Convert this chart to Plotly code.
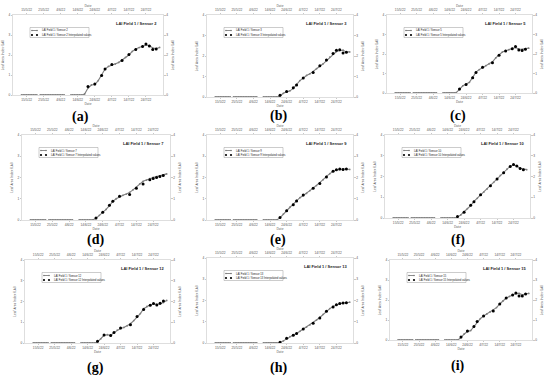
import plotly.graph_objects as go
import pandas as pd

W, H = 550, 376

sensors = [2, 3, 5, 7, 9, 10, 12, 13, 15]
panel_labels = ["(a)", "(b)", "(c)", "(d)", "(e)", "(f)", "(g)", "(h)", "(i)"]

tick_dates = ["2022-05-15", "2022-05-25", "2022-06-04", "2022-06-14",
              "2022-06-24", "2022-07-04", "2022-07-14", "2022-07-24"]
tick_text = ["15/5/22", "25/5/22", "4/6/22", "14/6/22",
             "24/6/22", "4/7/22", "14/7/22", "24/7/22"]
y_ticks = [0, 1, 2, 3, 4]

# dates of measurements before emergence (LAI = 0), with two short data gaps
zero_seg1 = pd.date_range("2022-05-12", "2022-05-21").tolist()
zero_seg2 = pd.date_range("2022-05-23", "2022-06-06").tolist()
zero_seg3 = pd.date_range("2022-06-10", "2022-06-17").tolist()
gap_dates = [pd.Timestamp("2022-05-22"), pd.Timestamp("2022-06-08")]

# dates of measurements after emergence (every 2 days)
rise_dates = pd.date_range("2022-06-18", "2022-08-01", freq="2D").tolist()

# measured LAI for each sensor at rise_dates
lai = {
    2:  [0.05, 0.35, 0.5, 0.52, 0.72, 1.0, 1.3, 1.43, 1.5, 1.55, 1.63, 1.75, 1.88, 2.0, 2.18, 2.3, 2.37, 2.45, 2.5, 2.47, 2.35, 2.32, 2.38],
    3:  [0.0, 0.05, 0.18, 0.25, 0.3, 0.42, 0.6, 0.8, 0.92, 1.05, 1.13, 1.24, 1.38, 1.5, 1.62, 1.78, 1.95, 2.1, 2.22, 2.27, 2.28, 2.2, 2.2],
    5:  [0.02, 0.18, 0.37, 0.45, 0.55, 0.8, 1.07, 1.2, 1.3, 1.4, 1.5, 1.6, 1.8, 1.95, 2.1, 2.17, 2.22, 2.29, 2.33, 2.26, 2.24, 2.28, 2.3],
    7:  [0.0, 0.08, 0.22, 0.35, 0.5, 0.68, 0.88, 1.0, 1.1, 1.16, 1.22, 1.3, 1.42, 1.55, 1.7, 1.82, 1.88, 1.95, 2.0, 2.04, 2.08, 2.12, 2.17],
    9:  [0.0, 0.1, 0.28, 0.45, 0.6, 0.75, 0.92, 1.05, 1.15, 1.25, 1.38, 1.5, 1.62, 1.75, 1.9, 2.05, 2.18, 2.3, 2.35, 2.38, 2.4, 2.4, 2.38],
    10: [0.0, 0.05, 0.15, 0.3, 0.45, 0.6, 0.8, 0.95, 1.1, 1.25, 1.4, 1.55, 1.72, 1.9, 2.05, 2.2, 2.35, 2.5, 2.55, 2.5, 2.4, 2.35, 2.33],
    12: [0.0, 0.05, 0.2, 0.37, 0.4, 0.37, 0.5, 0.62, 0.7, 0.75, 0.83, 0.93, 1.08, 1.25, 1.42, 1.65, 1.76, 1.84, 1.88, 1.86, 1.88, 1.95, 2.05],
    13: [0.0, 0.02, 0.1, 0.2, 0.3, 0.38, 0.45, 0.55, 0.65, 0.75, 0.85, 0.95, 1.08, 1.2, 1.35, 1.5, 1.62, 1.72, 1.8, 1.85, 1.88, 1.9, 1.92],
    15: [0.0, 0.12, 0.3, 0.42, 0.47, 0.67, 0.9, 1.07, 1.2, 1.3, 1.4, 1.5, 1.62, 1.8, 1.95, 2.1, 2.18, 2.26, 2.32, 2.33, 2.26, 2.3, 2.33],
}

interp_dates = ["2022-06-20", "2022-06-24", "2022-06-28", "2022-06-30", "2022-07-04",
                "2022-07-10", "2022-07-14", "2022-07-18", "2022-07-22", "2022-07-24",
                "2022-07-26", "2022-07-28", "2022-07-30"]
interp = {
    2:  [0.42, 0.55, 0.98, 1.3, 1.52, 1.72, 2.02, 2.28, 2.42, 2.55, 2.45, 2.27, 2.3],
    3:  [0.08, 0.27, 0.45, 0.58, 0.93, 1.2, 1.52, 1.8, 2.12, 2.28, 2.3, 2.15, 2.18],
    5:  [0.2, 0.43, 0.78, 1.05, 1.32, 1.55, 1.93, 2.15, 2.27, 2.38, 2.2, 2.18, 2.25],
    7:  [0.1, 0.37, 0.7, 0.88, 1.12, 1.2, 1.5, 1.7, 1.9, 1.95, 2.0, 2.05, 2.1],
    9:  [0.12, 0.43, 0.72, 0.9, 1.18, 1.5, 1.72, 2.02, 2.3, 2.36, 2.4, 2.38, 2.4],
    10: [0.07, 0.28, 0.62, 0.78, 1.12, 1.55, 1.88, 2.18, 2.48, 2.58, 2.5, 2.38, 2.32],
    12: [0.08, 0.38, 0.36, 0.5, 0.72, 0.88, 1.28, 1.62, 1.82, 1.9, 1.83, 1.92, 2.02],
    13: [0.03, 0.22, 0.36, 0.45, 0.66, 0.93, 1.18, 1.5, 1.7, 1.8, 1.86, 1.88, 1.9],
    15: [0.15, 0.45, 0.68, 0.92, 1.2, 1.45, 1.8, 2.1, 2.25, 2.35, 2.2, 2.2, 2.3],
}

# panel plot areas in pixels: (left, right, top, bottom)
boxes = [
    (13, 163, 15, 95), (207, 353, 15, 97), (387, 532, 15, 93),
    (22, 170, 135, 220), (207, 353, 135, 220), (385, 530, 135, 218),
    (25, 170, 260, 343), (207, 353, 258, 343), (390, 532, 260, 340),
]
label_pos = [(80, 117), (278, 116), (458, 116),
             (95, 240), (278, 240), (458, 240),
             (95, 368), (278, 368), (458, 366)]

x_range = ["2022-05-07", "2022-08-03"]
y_range = [0, 4]

GRAY = "#7f7f7f"
AX = "#c8c8c8"
TF = dict(size=3.2, color="#555", family="Liberation Sans")

# assemble series
m_dates = zero_seg1 + [gap_dates[0]] + zero_seg2 + [gap_dates[1]] + zero_seg3 + rise_dates
zeros1 = [0.0 for _ in zero_seg1]
zeros2 = [0.0 for _ in zero_seg2]
zeros3 = [0.0 for _ in zero_seg3]

fig = go.Figure()
layout = dict(width=W, height=H, margin=dict(l=0, r=0, t=0, b=0),
              paper_bgcolor="white", plot_bgcolor="white", showlegend=False,
              hovermode=False)
annotations = []
shapes = []


def px(x):
    return x / W


def py(y):
    return 1 - y / H


for k, s in enumerate(sensors):
    L, R, T, B = boxes[k]
    xd = [px(L), px(R)]
    yd = [py(B), py(T)]
    xm = "x" if k == 0 else f"x{k+1}"
    ym = "y" if k == 0 else f"y{k+1}"
    xt, yr = f"x{k+10}", f"y{k+10}"
    vals = zeros1 + [None] + zeros2 + [None] + zeros3 + lai[s]

    fig.add_trace(go.Scatter(
        x=m_dates, y=vals, xaxis=xm, yaxis=ym, mode="lines+markers",
        name=f"LAI Field 1 / Sensor {s}", connectgaps=False,
        line=dict(color=GRAY, width=1.1), marker=dict(color=GRAY, size=1.8, symbol="circle")))
    fig.add_trace(go.Scatter(
        x=interp_dates, y=interp[s], xaxis=xm, yaxis=ym, mode="markers",
        name=f"LAI Field 1 / Sensor {s} Interpolated values",
        marker=dict(color="black", size=3)))
    # invisible trace to anchor the secondary (top / right) axes
    fig.add_trace(go.Scatter(x=x_range, y=y_range, xaxis=xt, yaxis=yr, mode="markers",
                             marker=dict(opacity=0), showlegend=False))

    common_x = dict(range=x_range, tickvals=tick_dates, ticktext=tick_text, tickfont=TF,
                    ticks="outside", ticklen=1.5, tickcolor=AX, showgrid=False, zeroline=False,
                    title=dict(text="Date", font=dict(size=3.2, color="#555"), standoff=1),
                    automargin=False)

    def common_y(standoff):
        return dict(range=y_range, tickvals=y_ticks, tickfont=TF, ticks="outside",
                    ticklen=1.5, tickcolor=AX, showgrid=False, zeroline=False,
                    title=dict(text="Leaf Area Index (LAI)", font=dict(size=3.2, color="#555"),
                               standoff=standoff),
                    automargin=False)

    layout["xaxis" if k == 0 else f"xaxis{k+1}"] = dict(
        domain=xd, anchor=ym, showline=True, linecolor=AX, linewidth=0.6, mirror=True, **common_x)
    layout[f"xaxis{k+10}"] = dict(overlaying=xm, anchor=yr, side="top", showline=False, **common_x)
    layout["yaxis" if k == 0 else f"yaxis{k+1}"] = dict(
        domain=yd, anchor=xm, showline=True, linecolor=AX, linewidth=0.6, mirror=True, **common_y(4))
    layout[f"yaxis{k+10}"] = dict(overlaying=ym, anchor=xt, side="right", showline=False, **common_y(4))

    # legend box (drawn manually, small like the reference)
    lx0, lx1 = L + 17, L + 76
    ly0, ly1 = T + 12.5, T + 22.5
    shapes.append(dict(type="rect", xref="paper", yref="paper",
                       x0=px(lx0), x1=px(lx1), y0=py(ly1), y1=py(ly0),
                       line=dict(color="#999", width=0.5), fillcolor="white", layer="above"))
    r1, r2 = T + 15.5, T + 20
    shapes.append(dict(type="line", xref="paper", yref="paper",
                       x0=px(lx0 + 1.5), x1=px(lx0 + 7.5), y0=py(r1), y1=py(r1),
                       line=dict(color=GRAY, width=0.9), layer="above"))
    for cx, rad, col, cy in [(lx0 + 2, 0.8, GRAY, r1), (lx0 + 7, 0.8, GRAY, r1),
                             (lx0 + 2, 1.1, "black", r2), (lx0 + 7, 1.1, "black", r2)]:
        shapes.append(dict(type="circle", xref="paper", yref="paper",
                           x0=px(cx - rad), x1=px(cx + rad), y0=py(cy + rad), y1=py(cy - rad),
                           line=dict(width=0), fillcolor=col, layer="above"))
    for txt, cy in [(f"LAI Field 1 / Sensor {s}", r1),
                    (f"LAI Field 1 / Sensor {s} Interpolated values", r2)]:
        annotations.append(dict(text=txt, xref="paper", yref="paper", x=px(lx0 + 10), y=py(cy),
                                xanchor="left", yanchor="middle", showarrow=False,
                                font=dict(size=2.7, color="#222", family="Liberation Sans")))

    annotations.append(dict(text=f"<b>LAI Field 1 / Sensor {s}</b>", xref="paper", yref="paper",
                            x=px(R - 4), y=py(T + 4), xanchor="right", yanchor="top",
                            showarrow=False, font=dict(size=4, color="#222", family="Liberation Sans")))
    lxp, lyp = label_pos[k]
    annotations.append(dict(text=f"<b>{panel_labels[k]}</b>", xref="paper", yref="paper",
                            x=px(lxp), y=py(lyp), xanchor="center", yanchor="middle",
                            showarrow=False, font=dict(size=14, color="black", family="Liberation Serif")))

layout["annotations"] = annotations
layout["shapes"] = shapes
fig.update_layout(**layout)
fig.write_html("out.html", config={"displayModeBar": False, "staticPlot": True},
               post_script="document.body.style.margin='0';document.body.style.overflow='hidden';")
